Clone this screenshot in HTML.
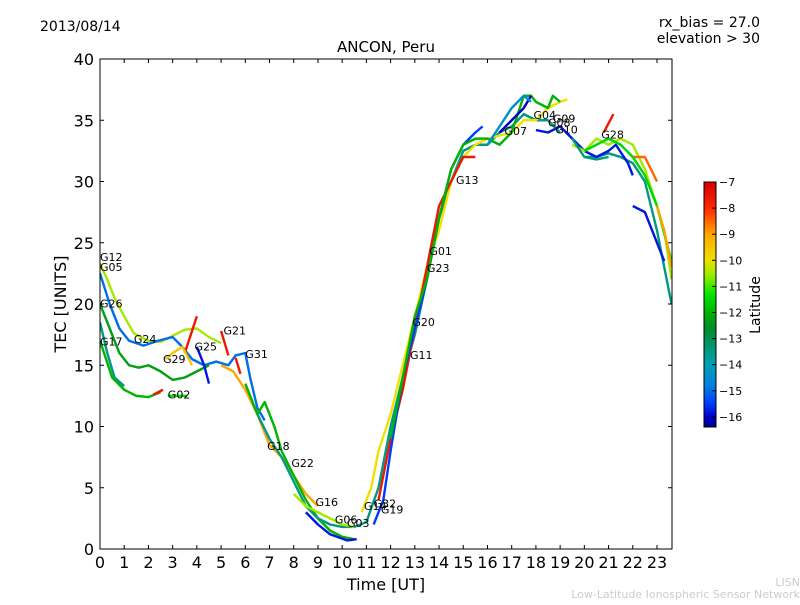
<!DOCTYPE html>
<html><head><meta charset="utf-8"><style>
body{margin:0;background:#fff;}
svg text{font-family:"DejaVu Sans","Liberation Sans",sans-serif;}
</style></head><body>
<svg id="chart" width="800" height="600" xmlns="http://www.w3.org/2000/svg">
<defs><linearGradient id="jetgrad" x1="0" y1="1" x2="0" y2="0"></linearGradient></defs>
<text x="40" y="31" font-size="14">2013/08/14</text>
<text x="760" y="27" font-size="14" text-anchor="end">rx_bias = 27.0</text>
<text x="760" y="43" font-size="14" text-anchor="end">elevation &gt; 30</text>
<text x="386" y="52" font-size="15" text-anchor="middle">ANCON, Peru</text>
<g id="marks"></g>
<rect x="100" y="59" width="572" height="490" fill="none" stroke="#000"/>
<g id="axes"></g>
<text x="386" y="590" font-size="16" text-anchor="middle">Time [UT]</text>
<text transform="translate(66,304) rotate(-90)" font-size="16" text-anchor="middle">TEC [UNITS]</text>
<rect x="704" y="182" width="12" height="245" fill="url(#jetgrad)" stroke="#000"/>
<g id="cbticks"></g>
<text transform="translate(760,305) rotate(-90)" font-size="14" text-anchor="middle">Latitude</text>
<text x="800" y="586" font-size="11" fill="#ccc" text-anchor="end">LISN</text>
<text x="800" y="598" font-size="11" fill="#ccc" text-anchor="end">Low-Latitude Ionospheric Sensor Network</text>
</svg>
<script>
const xTicks=[0,1,2,3,4,5,6,7,8,9,10,11,12,13,14,15,16,17,18,19,20,21,22,23];
const yTicks=[0,5,10,15,20,25,30,35,40];
const cbTicks=[-7,-8,-9,-10,-11,-12,-13,-14,-15,-16];
const trackLats=[-10.5,-15,-12.3,-13.5,-12,-7.6,-11.3,-7.6,-9.5,-7.6,-15.8,-7.6,-9,-12,-13.5,-15.8,-10.5,-10,-7.6,-15.5,-13.5,-12,-16,-14.5,-15.8,-10.5,-7.6,-8.5,-15.8,-13.5,-11.5,-9];
const trackPts=[
[[0,23.3],[0.3,22],[0.6,20.5],[1,19],[1.4,17.6],[2,17],[2.5,16.9],[3,17.4],[3.5,17.9],[4,18],[4.5,17.3],[5,16.8]],
[[0,22.5],[0.4,20],[0.8,18],[1.2,17],[1.8,16.6],[2.4,17],[3,17.3],[3.4,16.5],[3.8,15.5],[4.3,15],[4.8,15.3],[5.3,15],[5.6,15.8],[6,16],[6.2,14],[6.5,11.5],[6.8,10.5]],
[[0,20],[0.4,18],[0.8,16],[1.2,15],[1.6,14.8],[2,15],[2.5,14.5],[3,13.8],[3.5,14],[4,14.5],[4.5,15]],
[[0,18.5],[0.3,16],[0.6,14],[1,13.3]],
[[0,17],[0.5,14],[1,13],[1.5,12.5],[2,12.4],[2.5,12.8]],
[[2.2,12.6],[2.6,13]],
[[2.8,12.5],[3.6,12.5]],
[[3.5,16],[4,19]],
[[2.7,15.5],[3,16],[3.4,16.5],[3.8,15]],
[[5,17.8],[5.3,15.8]],
[[4,16.5],[4.3,15],[4.5,13.5]],
[[5.6,15.6],[5.8,14.3]],
[[5,15],[5.5,14.5],[6,13],[6.5,11],[7,8.5],[7.5,7.5],[8,6],[8.5,4.5],[9,3.5]],
[[6,13.5],[6.5,11],[6.8,12],[7.2,10],[7.5,8],[8,6],[8.5,4],[9,2.5],[9.5,1.5],[10,1],[10.5,0.8]],
[[6.5,11],[7,9],[7.5,7.5],[8,5.5],[8.5,3.5],[9,2.5],[9.5,2],[10,1.8],[10.5,1.8],[11,2.2],[11.5,5],[12,10],[12.5,14],[13,17.5],[13.5,22],[14,27],[14.5,30],[15,32.5],[15.5,33],[16,33],[16.5,34],[17,34.5],[17.5,35.5],[18,35],[18.5,35],[19,34]],
[[8.5,3],[9,2],[9.5,1.2],[10.2,0.7],[10.6,0.8]],
[[8,4.5],[8.5,3.5],[9,3],[9.5,2.5],[10,2],[10.5,1.8]],
[[10.8,3],[11.2,5],[11.5,8],[12,11],[12.5,15],[13,19],[13.5,23],[14,26],[14.5,30],[15,32],[15.5,33],[16,33.5],[17,34],[17.5,35],[18,35],[18.5,36],[19,36.5],[19.3,36.7]],
[[11.5,4],[12,9],[12.5,13],[13,18],[13.5,23],[14,28],[14.5,30],[15,32],[15.5,32]],
[[11.3,2],[11.7,4],[12,8],[12.5,14],[13,18],[13.5,22],[14,27],[14.5,31],[15,33],[15.5,34],[15.8,34.5]],
[[20,32],[20.5,32],[21,32.3],[21.5,32],[22,31.5],[22.5,30],[23,26],[23.6,20]],
[[12,9],[12.5,14],[13,19],[13.5,22],[14,27],[14.5,31],[15,33],[15.5,33.5],[16,33.5],[16.5,33],[17,34],[17.5,37],[17.8,37],[18,36.5],[18.5,36],[18.7,37],[19,36.5]],
[[16.5,34],[17,35],[17.5,36],[17.8,37]],
[[16,33],[16.5,34.5],[17,36],[17.5,37],[17.8,36.5]],
[[18,34.2],[18.5,34],[19,34.5],[19.5,33.5],[20,32.5],[20.5,32],[21,32.5],[21.3,33],[21.8,31.5],[22,30.5]],
[[19.5,33],[20,32.5],[20.5,33.5],[21,33],[21.5,33.5],[22,33],[22.5,31],[23,28],[23.3,26],[23.6,22]],
[[20.8,34],[21.2,35.5]],
[[22,32],[22.5,32],[23,30]],
[[22,28],[22.5,27.5],[23,25],[23.3,23.5]],
[[19.5,33.5],[20,32],[20.5,31.8],[21,32]],
[[20,32.5],[20.5,33],[21,33.5],[21.5,33],[22,32],[22.5,30.5],[23,28],[23.6,23.5]],
[[23,28],[23.3,26],[23.6,23]]
];
const satNames=["G12","G05","G26","G17","G24","G29","G02","G25","G21","G31","G18","G22","G16","G06","G03","G14","G32","G19","G11","G20","G23","G01","G13","G07","G04","G09","G08","G10","G28"];
const satX=[0,0,0,0,1.4,2.6,2.8,3.9,5.1,6,6.9,7.9,8.9,9.7,10.2,10.9,11.3,11.6,12.8,12.9,13.5,13.6,14.7,16.7,17.9,18.7,18.5,18.8,20.7];
const satY=[23.5,22.7,19.7,16.6,16.8,15.2,12.3,16.2,17.5,15.6,8.1,6.7,3.5,2.1,1.8,3.2,3.4,2.9,15.5,18.2,22.6,24,29.8,33.8,35.1,34.8,34.5,33.9,33.5];
const X0=100,XS=(657-100)/23,Y0=549,YS=12.25;
const xs=v=>X0+v*XS, ys=v=>Y0-v*YS;
const ns="http://www.w3.org/2000/svg";
const cmLat=[-16.4,-16,-15.5,-14.8,-14,-13.3,-12.6,-12,-11.3,-10.6,-10,-9,-8,-7];
const cmRGB=[[0,0,140],[0,0,200],[0,60,255],[0,130,220],[0,160,180],[0,150,110],[0,140,40],[0,180,0],[0,230,0],[150,235,0],[240,225,0],[255,165,0],[255,40,0],[210,0,0]];
function latColor(l){
 l=Math.max(-16.4,Math.min(-7,l));
 for(let i=0;i<cmLat.length-1;i++){if(l<=cmLat[i+1]){const t=(l-cmLat[i])/(cmLat[i+1]-cmLat[i]);
  const c=cmRGB[i].map((v,k)=>Math.round(v+(cmRGB[i+1][k]-v)*t));return `rgb(${c})`;}}
 return `rgb(${cmRGB[cmRGB.length-1]})`;
}
const grad=document.getElementById('jetgrad');
cmLat.forEach((l,i)=>{const s=document.createElementNS(ns,'stop');s.setAttribute('offset',(l+16.4)/9.4);s.setAttribute('stop-color',`rgb(${cmRGB[i]})`);grad.appendChild(s);});
const marks=document.getElementById('marks');
const clip=document.createElementNS(ns,'clipPath');clip.setAttribute('id','pc');
const cr=document.createElementNS(ns,'rect');cr.setAttribute('x',100);cr.setAttribute('y',59);cr.setAttribute('width',572);cr.setAttribute('height',490);
clip.appendChild(cr);document.querySelector('defs').appendChild(clip);
marks.setAttribute('clip-path','url(#pc)');
trackPts.forEach((pts,i)=>{
 const p=document.createElementNS(ns,'polyline');
 p.setAttribute('points',pts.map(q=>xs(q[0])+','+ys(q[1])).join(' '));
 p.setAttribute('fill','none');p.setAttribute('stroke',latColor(trackLats[i]));p.setAttribute('stroke-width','2.4');
 p.setAttribute('stroke-linejoin','round');
 
 
 marks.appendChild(p);
});
satNames.forEach((n,i)=>{
 const t=document.createElementNS(ns,'text');
 t.setAttribute('x',xs(satX[i]));t.setAttribute('y',ys(satY[i]));t.setAttribute('font-size','11');t.textContent=n;
 
 
 document.getElementById('chart').appendChild(t);
});
const axes=document.getElementById('axes');
function line(g,x1,y1,x2,y2){const l=document.createElementNS(ns,'line');l.setAttribute('x1',x1);l.setAttribute('y1',y1);l.setAttribute('x2',x2);l.setAttribute('y2',y2);l.setAttribute('stroke','#000');g.appendChild(l);return l;}
function txt(g,x,y,s,anchor,fs){const t=document.createElementNS(ns,'text');t.setAttribute('x',x);t.setAttribute('y',y);t.setAttribute('text-anchor',anchor);t.setAttribute('font-size',fs);t.textContent=s;g.appendChild(t);return t;}
xTicks.forEach(v=>{const x=xs(v);line(axes,x,549,x,545);line(axes,x,59,x,63);
 const t=txt(axes,x,568,v,'middle',16);
 
 });
yTicks.forEach(v=>{const y=ys(v);line(axes,100,y,104,y);line(axes,672,y,668,y);
 const t=txt(axes,94,y+6,v,'end',16);
 
 });
const cb=document.getElementById('cbticks');
cbTicks.forEach(v=>{const y=182+(-7-v)*26.1;line(cb,712,y,716,y);
 const t=txt(cb,719,y+4,'\u2212'+Math.abs(v),'start',11);
 
 });
</script>
</body></html>
